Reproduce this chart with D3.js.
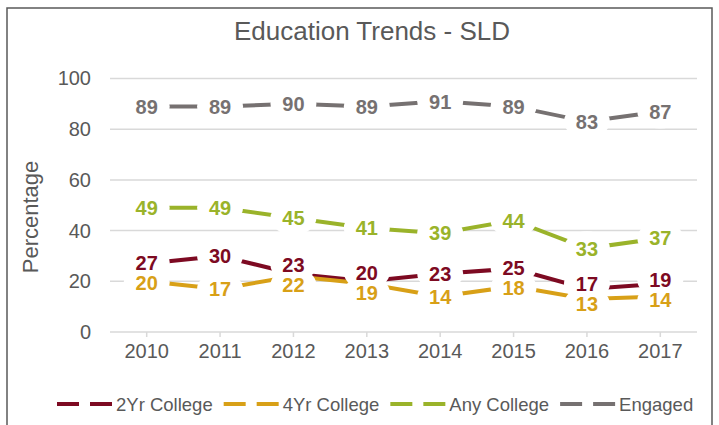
<!DOCTYPE html>
<html>
<head>
<meta charset="utf-8">
<script src="https://cdn.jsdelivr.net/npm/d3@7"></script>
<style>
  body { margin: 0; background: #fff; }
  svg { display: block; font-family: Arial, "Liberation Sans", sans-serif; }
</style>
</head>
<body>
<div class="chart"></div>
<script>
var years = ["2010", "2011", "2012", "2013", "2014", "2015", "2016", "2017"];
var yTicks = [0, 20, 40, 60, 80, 100];

var twoYr   = [27, 30, 23, 20, 23, 25, 17, 19];
var fourYr  = [20, 17, 22, 19, 14, 18, 13, 14];
var anyColl = [49, 49, 45, 41, 39, 44, 33, 37];
var engaged = [89, 89, 90, 89, 91, 89, 83, 87];

var seriesNames  = ["2Yr College", "4Yr College", "Any College", "Engaged"];
var seriesColors = ["#7d0a22", "#d8a017", "#9ab32a", "#767171"];

var series = [twoYr, fourYr, anyColl, engaged].map(function(v, i){
	return { name: seriesNames[i], color: seriesColors[i], values: v }
})

var width = 719,
		height = 425;

var svg = d3.select(".chart").append("svg")
		.attr("width", width)
		.attr("height", height);

// outer chart frame
svg.append("rect")
		.attr("x", 7)
		.attr("y", 8)
		.attr("width", 705)
		.attr("height", 440)
		.attr("fill", "none")
		.attr("stroke", "#595959")
		.attr("stroke-width", 1.5);

svg.append("text")
		.attr("x", 372)
		.attr("y", 40)
		.attr("text-anchor", "middle")
		.attr("fill", "#595959")
		.style("font-size", "26px")
		.text("Education Trends - SLD");

var x = d3.scaleBand()
		.domain(years)
		.range([110, 697]);

var y = d3.scaleLinear()
		.domain([0, 100])
		.range([332, 78.5]);

function cx(i){ return x(years[i]) + x.bandwidth() / 2 }

// gridlines
svg.append("g")
	.selectAll("line")
	.data(yTicks)
	.enter().append("line")
		.attr("x1", 110)
		.attr("x2", 697)
		.attr("y1", function(d){ return y(d) })
		.attr("y2", function(d){ return y(d) })
		.attr("stroke", "#d9d9d9")
		.attr("stroke-width", 1.5);

// y axis labels
var yAxis = svg.append("g")
		.attr("transform", "translate(104,0)")
		.call(d3.axisLeft(y).tickValues(yTicks).tickSize(0).tickPadding(13));
yAxis.select(".domain").remove();
yAxis.selectAll("text")
		.attr("fill", "#595959")
		.style("font-size", "20px")
		.style("font-family", "Arial, 'Liberation Sans', sans-serif");

// x axis
var xAxis = svg.append("g")
		.attr("transform", "translate(0,332)")
		.call(d3.axisBottom(x).tickSize(5).tickPadding(7));
xAxis.select(".domain").remove();
xAxis.selectAll("line").attr("stroke", "#d9d9d9").attr("stroke-width", 1.5);
xAxis.selectAll("text")
		.attr("fill", "#595959")
		.style("font-size", "20px")
		.style("font-family", "Arial, 'Liberation Sans', sans-serif");

svg.append("text")
		.attr("transform", "translate(38,217) rotate(-90)")
		.attr("text-anchor", "middle")
		.attr("fill", "#595959")
		.style("font-size", "22px")
		.text("Percentage");

// series lines
var line = d3.line()
		.x(function(d, i){ return cx(i) })
		.y(function(d){ return y(d) });

svg.append("g")
	.selectAll("path")
	.data(series)
	.enter().append("path")
		.attr("d", function(s){ return line(s.values) })
		.attr("fill", "none")
		.attr("stroke", function(s){ return s.color })
		.attr("stroke-width", 4);

// label positions: start on the point, push apart labels that collide
var MIN_GAP = 20;
var labelData = [];
years.forEach(function(yr, i){
	var col = series.map(function(s){
		return { x: cx(i), y: y(s.values[i]), v: s.values[i], color: s.color }
	}).sort(function(a, b){ return a.y - b.y });
	for (var k = 1; k < col.length; k++){
		var d = col[k].y - col[k-1].y;
		if (d < MIN_GAP){
			var shift = (MIN_GAP - d) / 2;
			col[k-1].y -= shift;
			col[k].y += shift;
		}
	}
	labelData = labelData.concat(col);
});

// data labels: white background knocks out lines and gridlines
var labels = svg.append("g");
labels.selectAll("ellipse")
	.data(labelData)
	.enter().append("ellipse")
		.attr("cx", function(d){ return d.x })
		.attr("cy", function(d){ return d.y })
		.attr("rx", 23)
		.attr("ry", 17)
		.attr("fill", "#fff");

labels.selectAll("text")
	.data(labelData)
	.enter().append("text")
		.attr("x", function(d){ return d.x })
		.attr("y", function(d){ return d.y })
		.attr("dy", "0.36em")
		.attr("text-anchor", "middle")
		.attr("fill", function(d){ return d.color })
		.style("font-size", "20px")
		.style("font-weight", "bold")
		.text(function(d){ return d.v });

// legend
var legend = svg.append("g").attr("transform", "translate(0,404)");
var lx = 57;
series.forEach(function(s){
	var item = legend.append("g").attr("transform", "translate(" + lx + ",0)");
	item.append("line")
			.attr("x1", 0).attr("x2", 55)
			.attr("y1", 0).attr("y2", 0)
			.attr("stroke", s.color)
			.attr("stroke-width", 4)
			.attr("stroke-dasharray", "22 11");
	var t = item.append("text")
			.attr("x", 59)
			.attr("dy", "0.36em")
			.attr("fill", "#595959")
			.style("font-size", "18.5px")
			.text(s.name);
	lx += 59 + t.node().getComputedTextLength() + 11;
});
</script>
</body>
</html>
